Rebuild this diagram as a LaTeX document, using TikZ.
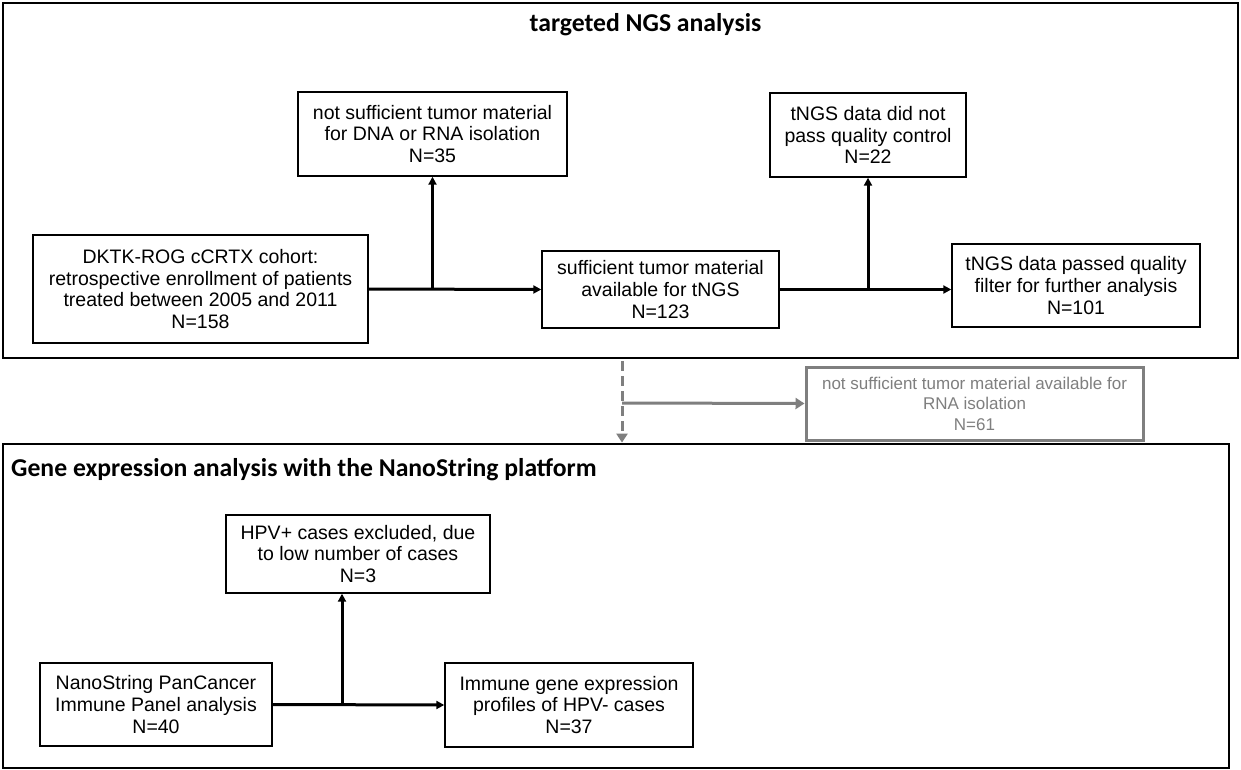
\documentclass[tikz,border=0pt]{standalone}
\usepackage{fontspec}
\setmainfont{Liberation Sans}
\newfontfamily\calib{Carlito}
\usetikzlibrary{arrows.meta}
\definecolor{greyc}{HTML}{7F7F7F}
\begin{document}
\begin{tikzpicture}[x=1pt,y=-1pt,
  box/.style={draw=black, line width=1.4pt, inner sep=0pt, align=center,
    font=\fontsize{19.5}{21.7}\selectfont},
  greybox/.style={draw=greyc, line width=3pt, inner sep=0pt, align=center,
    text=greyc, font=\fontsize{17}{20.5}\selectfont},
  frame/.style={draw=black, line width=2.8pt, inner sep=0pt},
  ttl/.style={inner sep=0pt, font=\calib\bfseries\fontsize{25.7}{28}\selectfont},
  arr/.style={line width=3pt, -{Triangle[length=8pt,width=8pt]}},
  greyarr/.style={draw=greyc, line width=3pt, -{Triangle[length=9pt,width=11pt]}},
  dasharr/.style={draw=greyc, line width=3pt, dash pattern=on 10pt off 5pt,
    -{Triangle[length=9pt,width=11pt]}}]
\fill[white] (0,0) rectangle (1241,770);
\useasboundingbox (0,0) rectangle (1241,770);

% frames
\node[frame, minimum width=1235pt, minimum height=355pt] (topframe) at (620.5,180.5) {};
\node[frame, minimum width=1226pt, minimum height=324pt] (botframe) at (616,606) {};
\node[ttl] (toptitle) at (645.5,25) {targeted NGS analysis};
\node[ttl, anchor=west] (bottitle) at (11,470) {Gene expression analysis with the NanoString platform};

% upper boxes
\node[box, minimum width=335pt, minimum height=108pt] (A) at (200.5,289)
  {DKTK-ROG cCRTX cohort:\\retrospective enrollment of patients\\treated between 2005 and 2011\\N=158};
\node[box, minimum width=269pt, minimum height=84pt] (B) at (432.5,134)
  {not sufficient tumor material\\for DNA or RNA isolation\\N=35};
\node[box, minimum width=237pt, minimum height=77pt] (C) at (660.5,289.5)
  {sufficient tumor material\\available for tNGS\\N=123};
\node[box, minimum width=196pt, minimum height=84pt] (D) at (868,135)
  {tNGS data did not\\pass quality control\\N=22};
\node[box, minimum width=248pt, minimum height=83pt] (E) at (1076,285.5)
  {tNGS data passed quality\\filter for further analysis\\N=101};

% grey box
\node[greybox, minimum width=337pt, minimum height=73pt] (R) at (974.5,403.5)
  {not sufficient tumor material available for\\RNA isolation\\N=61};

% lower boxes
\node[box, minimum width=264pt, minimum height=78pt] (F) at (358,554)
  {HPV+ cases excluded, due\\to low number of cases\\N=3};
\node[box, minimum width=232pt, minimum height=83pt] (G) at (156,704.5)
  {NanoString PanCancer\\Immune Panel analysis\\N=40};
\node[box, minimum width=248pt, minimum height=84pt] (H) at (569,705)
  {Immune gene expression\\profiles of HPV- cases\\N=37};

% connectors upper
\draw[arr] (A.east) -- (C.west);
\draw[arr] (B.south |- A.east) -- (B.south);
\coordinate (c1) at (C.east);
\draw[arr] (c1) -- (c1 -| E.west);
\draw[arr] (D.south |- c1) -- (D.south);

% connectors lower
\draw[arr] (G.east) -- (H.west);
\coordinate (j3) at (342,705);
\draw[arr] (j3) -- (j3 |- F.south);

% between panels
\coordinate (d1) at (622,361);
\draw[dasharr] (d1) -- (d1 |- botframe.north);
\coordinate (g1) at (622,403);
\draw[greyarr] (g1) -- (R.west);
\end{tikzpicture}
\end{document}
